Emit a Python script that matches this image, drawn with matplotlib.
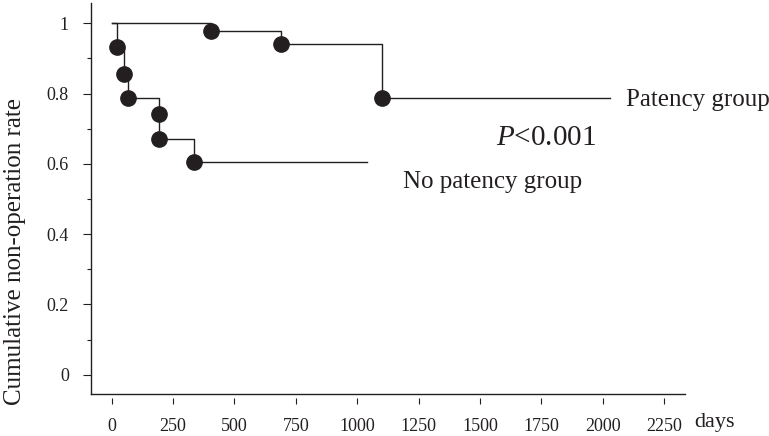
import matplotlib
matplotlib.use("Agg")
from matplotlib import pyplot as plt

plt.rcParams['font.family'] = ['Liberation Serif', 'DejaVu Serif']
plt.rcParams['mathtext.fontset'] = 'custom'
plt.rcParams['mathtext.rm'] = 'Liberation Serif'
plt.rcParams['mathtext.it'] = 'Liberation Serif:italic'

# Kaplan-Meier data
pat_days = [0, 403, 689, 1102]
pat_rate = [1.0, 0.979, 0.941, 0.787]
pat_end = 2029

nopat_days = [0, 23, 51, 65, 193, 193, 335]
nopat_rate = [1.0, 0.932, 0.856, 0.787, 0.742, 0.670, 0.606]
nopat_end = 1041

xticks = [0, 250, 500, 750, 1000, 1250, 1500, 1750, 2000, 2250]
yticks = [0, 0.2, 0.4, 0.6, 0.8, 1.0]
ylabels = ['0', '0.2', '0.4', '0.6', '0.8', '1']
yminor = [0.1, 0.3, 0.5, 0.7, 0.9]

ink = '#231f20'
ymin, ymax = -0.055, 1.0586

fig = plt.figure(figsize=(7.69, 4.36), dpi=100)
ax = fig.add_axes([0.1183, 0.0963, 0.7724, 0.8975])

# curves
ax.step(pat_days + [pat_end], pat_rate + [pat_rate[-1]], where='post', color=ink, lw=1.0)
ax.step(nopat_days + [nopat_end], nopat_rate + [nopat_rate[-1]], where='post', color=ink, lw=1.0)
ax.plot(pat_days[1:], pat_rate[1:], 'o', color=ink, ms=11)
ax.plot(nopat_days[1:], nopat_rate[1:], 'o', color=ink, ms=11)

ax.set_xlim(-84, 2334)
ax.set_ylim(ymin, ymax)

ax.set_xticks(xticks)
ax.set_xticklabels([str(t) for t in xticks])
ax.set_yticks(yticks)
ax.set_yticklabels(ylabels)
ax.set_yticks(yminor, minor=True)

ax.spines['top'].set_visible(False)
ax.spines['right'].set_visible(False)
ax.spines['left'].set_color(ink)
ax.spines['left'].set_linewidth(1.0)
# x ticks sit a little below the axis line
ax.spines['bottom'].set_position(('outward', 3))
ax.spines['bottom'].set_visible(False)
ax.axhline(ymin, color=ink, lw=1.0, clip_on=False)

ax.tick_params(axis='x', direction='out', length=4.5, width=0.8, color=ink,
               labelsize=13, pad=10, labelcolor=ink)
ax.tick_params(axis='y', which='major', direction='out', length=6, width=0.8, color=ink,
               labelsize=13, pad=10, labelcolor=ink)
ax.tick_params(axis='y', which='minor', direction='out', length=3, width=0.8, color=ink)

ax.set_ylabel('Cumulative non-operation rate', fontsize=18, color=ink)
ax.yaxis.set_label_coords(-0.11, 0.364)
ax.text(1.0505, -0.072, 'days', transform=ax.transAxes, fontsize=16, color=ink,
        ha='center', va='center')

ax.text(2094, 0.782, 'Patency group', fontsize=18, color=ink, ha='left', va='center')
ax.text(1565, 0.673, r'$\it{P}$<0.001', fontsize=21, color=ink, ha='left', va='center')
ax.text(1186, 0.549, 'No patency group', fontsize=18, color=ink, ha='left', va='center')

plt.savefig('out.png', dpi=100)
